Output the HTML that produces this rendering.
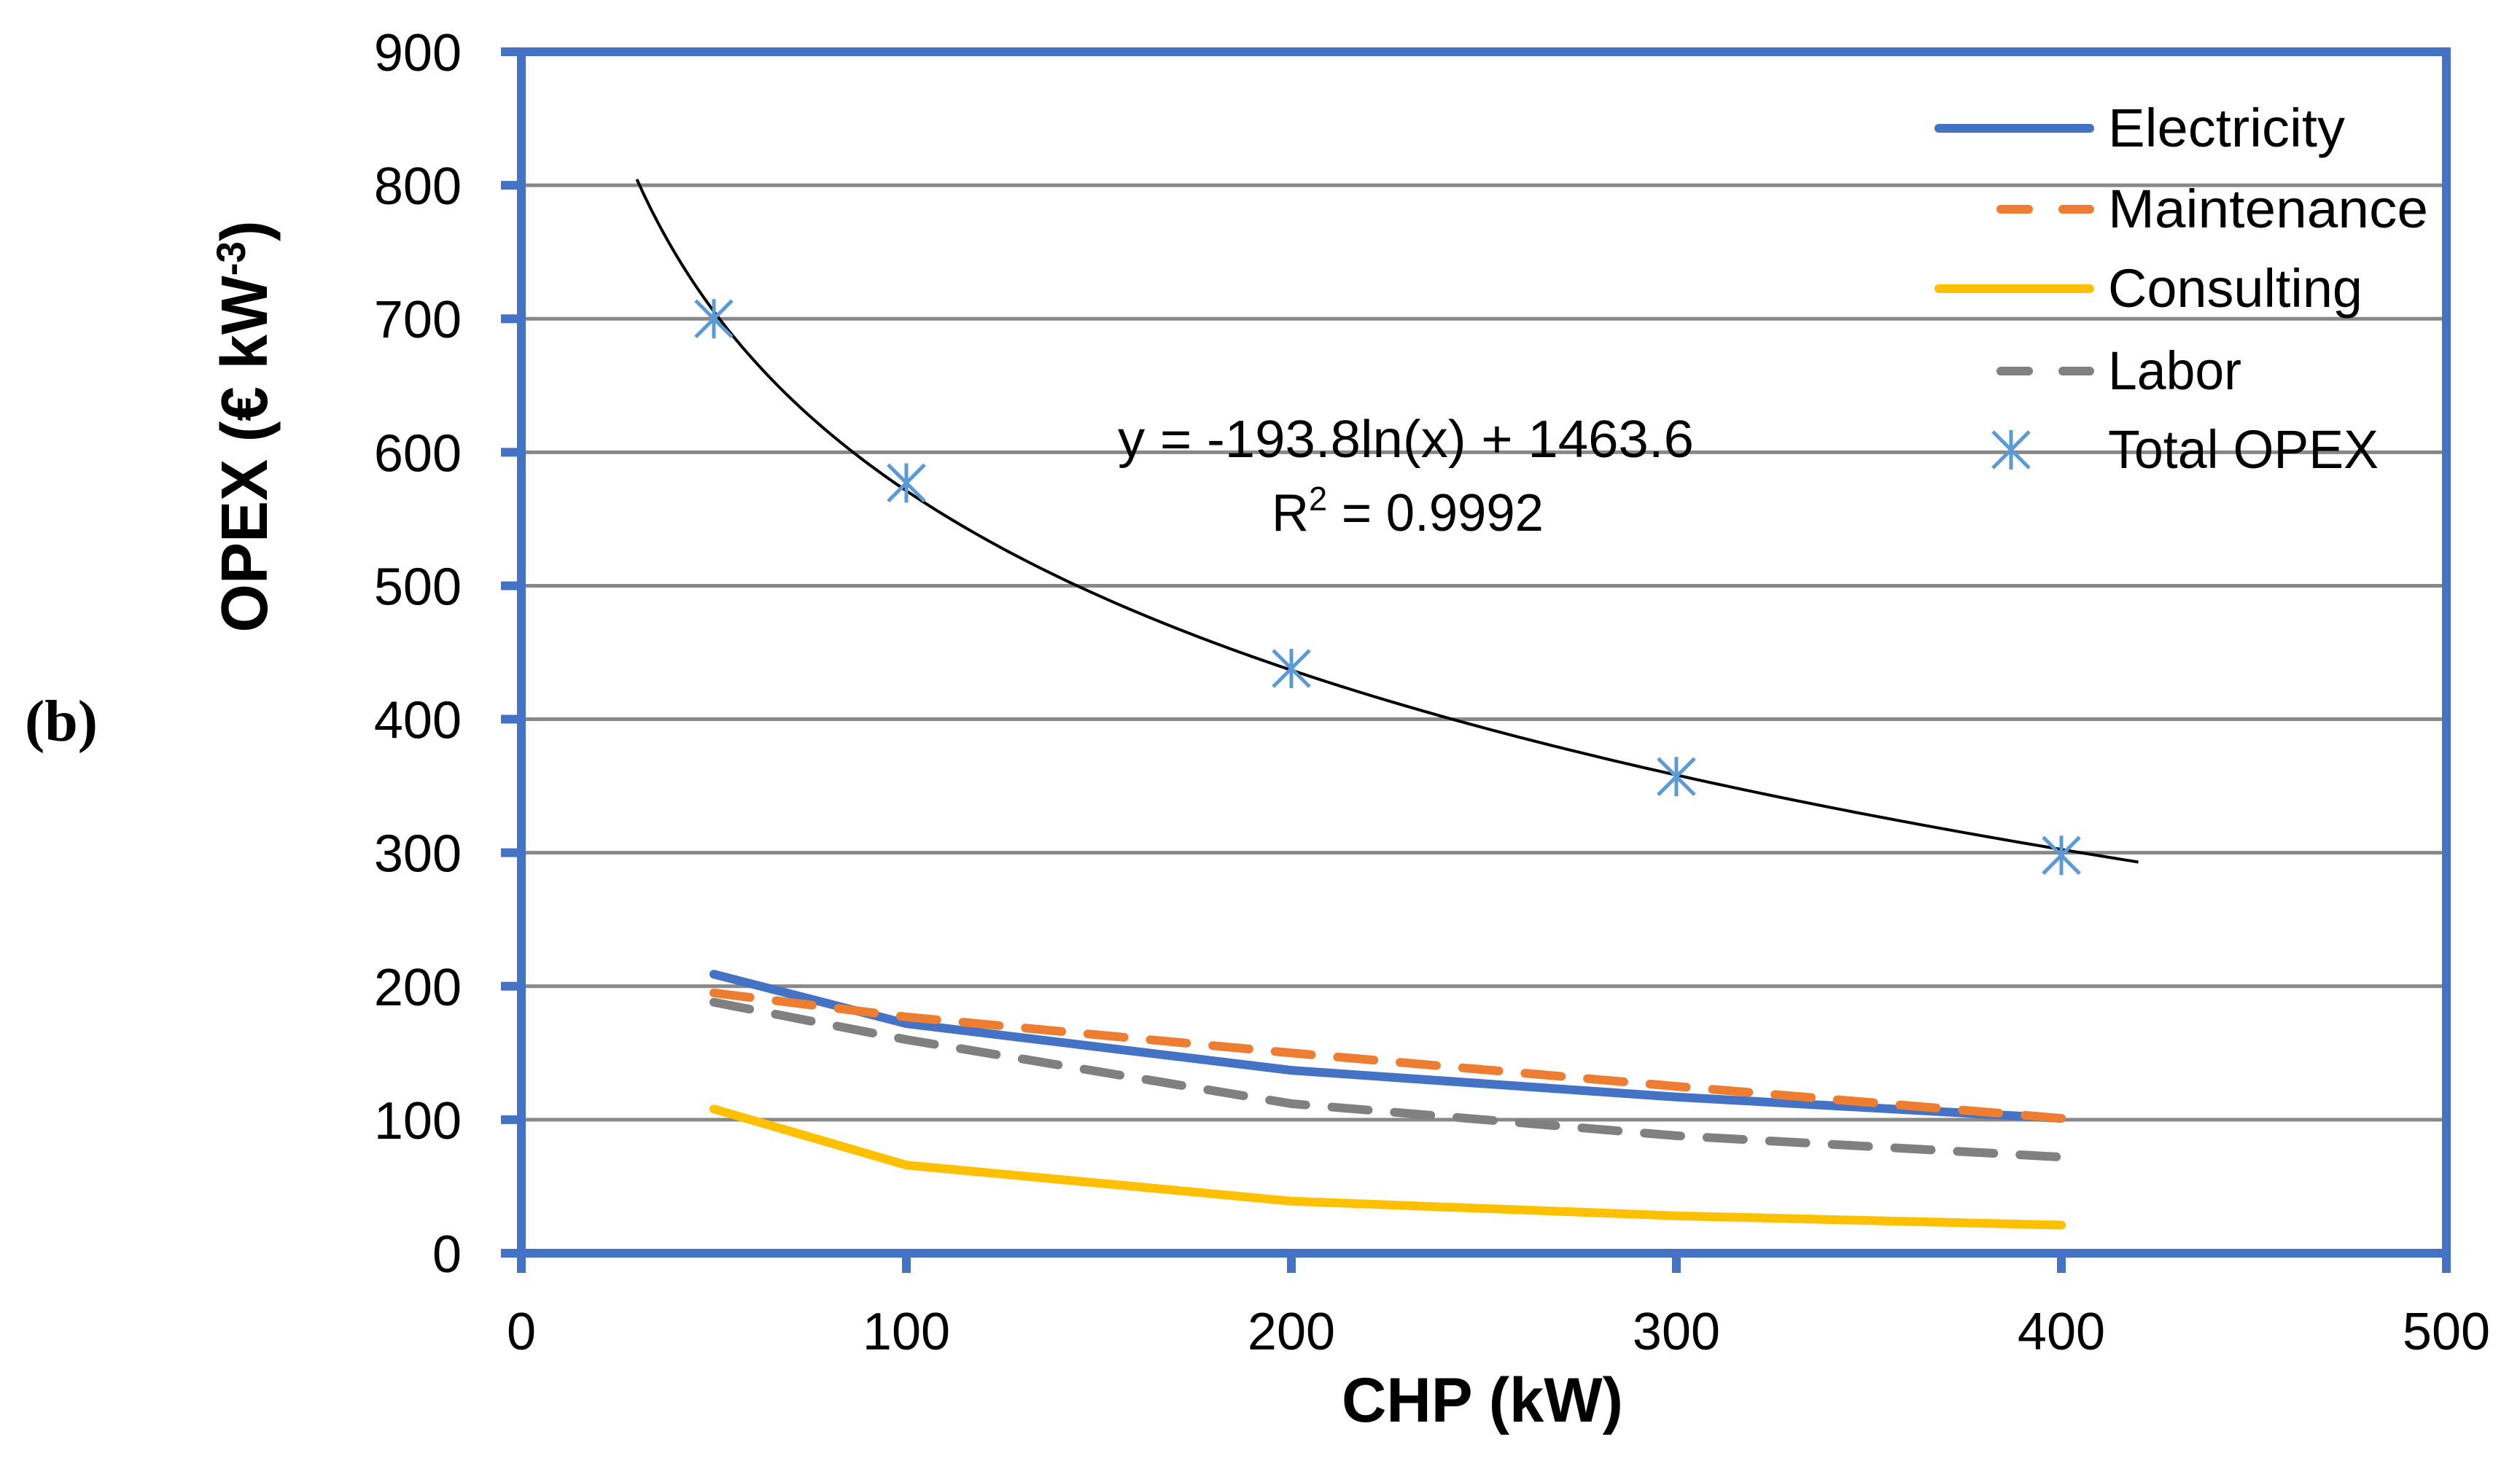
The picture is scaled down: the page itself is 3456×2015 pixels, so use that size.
<!DOCTYPE html>
<html><head><meta charset="utf-8"><style>
html,body{margin:0;padding:0;background:#fff;}
svg{display:block;}
text{font-family:"Liberation Sans",sans-serif;fill:#000;}
</style></head><body>
<svg id="chart" width="3456" height="2015" viewBox="0 0 3456 2015" xmlns="http://www.w3.org/2000/svg">
<g id="grid"></g>
<g id="series"></g>
<g id="axes"></g>
<text x="34" y="1016" textLength="100" lengthAdjust="spacingAndGlyphs" style="font-family:'Liberation Serif',serif;font-weight:bold;font-size:80px">(b)</text>
<text transform="translate(366,585) rotate(-90)" text-anchor="middle" textLength="565" lengthAdjust="spacingAndGlyphs" style="font-weight:bold;font-size:90px">OPEX (€ kW<tspan dy="-30" font-size="56">-3</tspan><tspan dy="30">)</tspan></text>
<text x="1840" y="1950" textLength="386" lengthAdjust="spacingAndGlyphs" style="font-weight:bold;font-size:86px">CHP (kW)</text>
<text x="1533" y="627" textLength="790" lengthAdjust="spacingAndGlyphs" style="font-size:72px">y = -193.8ln(x) + 1463.6</text>
<text x="1744" y="728" textLength="373" lengthAdjust="spacingAndGlyphs" style="font-size:72px">R<tspan dy="-28" font-size="46">2</tspan><tspan dy="28"> = 0.9992</tspan></text>
<g id="legend"></g>
</svg>
<script>
const xCats = [50, 100, 200, 300, 400];
const electricity = [209, 172, 137, 117, 101];
const maintenance = [195, 177, 150, 125, 101];
const consulting = [108, 66, 39, 28, 21];
const labor = [188, 160, 112, 88, 72];
const totalOpex = [700, 577, 438, 357, 298];
const trendA = -193.8;
const trendB = 1463.6;
const trendRange = [30, 420];
const yTicks = [0, 100, 200, 300, 400, 500, 600, 700, 800, 900];
const xTicks = [0, 100, 200, 300, 400, 500];
const legendLabels = ["Electricity", "Maintenance", "Consulting", "Labor", "Total OPEX"];

const NS = "http://www.w3.org/2000/svg";
const X0 = 715, X1 = 3355, Y0 = 1719, Y1 = 71;
const sx = v => X0 + (v - 0) / 500 * (X1 - X0);
const sy = v => Y0 - (v - 0) / 900 * (Y0 - Y1);
function mk(tag, attrs, parent) {
  const e = document.createElementNS(NS, tag);
  for (const k in attrs) e.setAttribute(k, attrs[k]);
  parent.appendChild(e);
  return e;
}
const grid = document.getElementById('grid');
const axes = document.getElementById('axes');
const series = document.getElementById('series');
const legend = document.getElementById('legend');
const BLUE = "#4472C4";

yTicks.forEach(t => {
  if (t > 0 && t < 900) {
    const g = mk('line', {x1: X0, x2: X1, y1: sy(t), y2: sy(t), stroke: '#888', 'stroke-width': 5}, grid);
    
    
  }
  const tk = mk('line', {x1: X0 - 28, x2: X0, y1: sy(t), y2: sy(t), stroke: BLUE, 'stroke-width': 12}, axes);
  
  
  const lb = mk('text', {x: 633, y: sy(t) + 26, 'text-anchor': 'end', 'font-size': 72}, axes);
  lb.textContent = t;
  
  
});
xTicks.forEach(t => {
  const tk = mk('line', {x1: sx(t), x2: sx(t), y1: Y0, y2: Y0 + 27, stroke: BLUE, 'stroke-width': 12}, axes);
  
  
  const lb = mk('text', {x: sx(t), y: 1851, 'text-anchor': 'middle', 'font-size': 72}, axes);
  lb.textContent = t;
  
  
});
const frame = mk('rect', {x: X0, y: Y1, width: X1 - X0, height: Y0 - Y1, fill: 'none', stroke: BLUE, 'stroke-width': 12}, axes);



function pts(vals) { return vals.map((v, i) => sx(xCats[i]) + ',' + sy(v)).join(' '); }
const defs = [
  {name: 'electricity', vals: electricity, color: BLUE, dash: null},
  {name: 'maintenance', vals: maintenance, color: '#ED7D31', dash: '50 36'},
  {name: 'consulting', vals: consulting, color: '#FFC000', dash: null},
  {name: 'labor', vals: labor, color: '#808080', dash: '50 36'}
];
[defs[3], defs[2], defs[0], defs[1]].forEach(d => {
  const a = {points: pts(d.vals), fill: 'none', stroke: d.color, 'stroke-width': 12, 'stroke-linecap': 'round', 'stroke-linejoin': 'round'};
  if (d.dash) a['stroke-dasharray'] = d.dash;
  const p = mk('polyline', a, series);
  
  
});
const tp = [];
for (let i = 0; i <= 200; i++) {
  const x = trendRange[0] + (trendRange[1] - trendRange[0]) * i / 200;
  tp.push(sx(x) + ',' + sy(trendA * Math.log(x) + trendB));
}
const tl = mk('polyline', {points: tp.join(' '), fill: 'none', stroke: '#000', 'stroke-width': 4}, series);



function star(cx, cy, parent, nm) {
  const g = mk('g', {stroke: '#5B9BD5', 'stroke-width': 5, fill: 'none'}, parent);
  
  
  mk('line', {x1: cx, x2: cx, y1: cy - 27, y2: cy + 27}, g);
  mk('line', {x1: cx - 25, x2: cx + 25, y1: cy - 25, y2: cy + 25}, g);
  mk('line', {x1: cx - 25, x2: cx + 25, y1: cy + 25, y2: cy - 25}, g);
}
totalOpex.forEach((v, i) => star(sx(xCats[i]), sy(v), series, 'total-opex-point-' + xCats[i]));

const ly = [176, 287, 396, 509, 617];
const lcolors = [BLUE, '#ED7D31', '#FFC000', '#808080'];
const lwidths = [325, 439, 349, 183, 371];
for (let i = 0; i < 4; i++) {
  const a = {x1: 2659, x2: 2866, y1: ly[i], y2: ly[i], stroke: lcolors[i], 'stroke-width': 12, 'stroke-linecap': 'round'};
  if (i === 1 || i === 3) { a['stroke-dasharray'] = '38 47'; a.x1 = 2744; }
  const l = mk('line', a, legend);
  
  
}
star(2758, 617, legend, 'legend-swatch-total-opex');
legendLabels.forEach((t, i) => {
  const tx = mk('text', {x: 2891, y: ly[i] + 25, 'font-size': 74, textLength: lwidths[i], lengthAdjust: 'spacingAndGlyphs'}, legend);
  tx.textContent = t;
  
  
});
</script>
</body></html>
